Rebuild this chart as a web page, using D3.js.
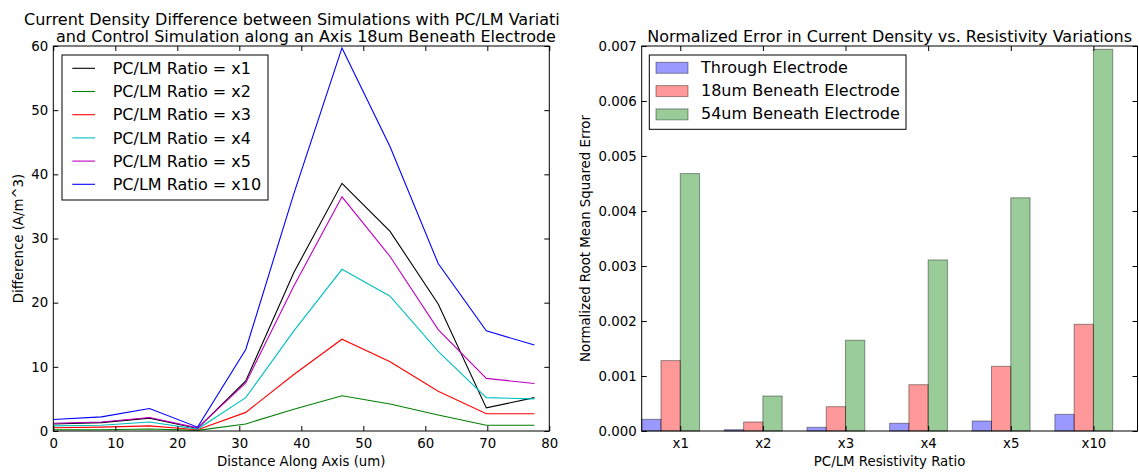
<!DOCTYPE html>
<html><head><meta charset="utf-8">
<script src="https://cdn.jsdelivr.net/npm/d3@7"></script>
<style>
body{margin:0;background:#fff}
svg{display:block}
text{font-family:"DejaVu Sans",sans-serif;fill:#000}
</style>
</head><body>
<svg id="c" width="1139" height="472"></svg>
<script>
// ---------- data ----------
const distance = [0, 7.76, 15.52, 23.28, 31.04, 38.8, 46.56, 54.32, 62.08, 69.84, 77.6];
const diffX1  = [1.1, 1.3, 2.0, 0.4, 7.8, 24.7, 38.6, 31.1, 19.8, 3.6, 5.2];
const diffX2  = [0.2, 0.2, 0.3, 0.1, 1.1, 3.4, 5.5, 4.2, 2.5, 0.9, 0.9];
const diffX3  = [0.5, 0.6, 0.8, 0.2, 2.9, 8.8, 14.3, 10.8, 6.2, 2.7, 2.7];
const diffX4  = [0.8, 0.9, 1.4, 0.3, 5.2, 15.6, 25.2, 21.0, 12.4, 5.2, 5.0];
const diffX5  = [1.2, 1.4, 2.1, 0.5, 7.5, 22.6, 36.5, 27.2, 15.8, 8.2, 7.4];
const diffX10 = [1.8, 2.2, 3.5, 0.6, 12.7, 37.0, 59.7, 44.3, 26.1, 15.6, 13.4];
const lineLabels = ["PC/LM Ratio = x1","PC/LM Ratio = x2","PC/LM Ratio = x3","PC/LM Ratio = x4","PC/LM Ratio = x5","PC/LM Ratio = x10"];
const lineColors = ["#000000","#008000","#ff0000","#00bfbf","#bf00bf","#0000ff"];

const ratioLabels = ["x1","x2","x3","x4","x5","x10"];
const throughElectrode = [0.000212, 0.000024, 0.000067, 0.00014, 0.000182, 0.000303];
const beneath18 = [0.00128, 0.000164, 0.000442, 0.000842, 0.001176, 0.00194];
const beneath54 = [0.00468, 0.000636, 0.00165, 0.00311, 0.00424, 0.00694];
const barLabels = ["Through Electrode","18um Beneath Electrode","54um Beneath Electrode"];
const barColors = ["#0000ff","#ff0000","#008000"];

const xTicksLeft = [0,10,20,30,40,50,60,70,80];
const yTicksLeft = [0,10,20,30,40,50,60];
const yTicksRight = [0,0.001,0.002,0.003,0.004,0.005,0.006,0.007];

// ---------- layout ----------
const svg = d3.select("#c");
svg.append("rect").attr("width",1139).attr("height",472).attr("fill","#fff");
const yTop = 46, yBot = 431;
const FS = 13.33;

svg.append("defs").append("clipPath").attr("id","leftclip")
  .append("rect").attr("x",0).attr("y",0).attr("width",560).attr("height",472);

const L = svg.append("g").attr("clip-path","url(#leftclip)");
const xL = d3.scaleLinear().domain([0,80]).range([53.3,549.3]);
const yL = d3.scaleLinear().domain([0,60]).range([yBot,yTop]);

function axesDecor(g, x, y, xticks, yticks, xfmt, yfmt) {
  const x0 = x.range()[0], x1 = x.range()[1];
  g.append("g").attr("transform",`translate(0,${yBot})`)
    .call(d3.axisBottom(x).tickValues(xticks).tickFormat(xfmt).tickSizeInner(-5).tickSizeOuter(0).tickPadding(7.5))
    .call(s=>{s.select(".domain").remove(); s.selectAll("text").attr("font-size",FS).attr("font-family","DejaVu Sans");});
  g.append("g").attr("transform",`translate(0,${yTop})`)
    .call(d3.axisTop(x).tickValues(xticks).tickFormat("").tickSizeInner(-5).tickSizeOuter(0))
    .call(s=>s.select(".domain").remove());
  g.append("g").attr("transform",`translate(${x0},0)`)
    .call(d3.axisLeft(y).tickValues(yticks).tickFormat(yfmt).tickSizeInner(-5).tickSizeOuter(0).tickPadding(5))
    .call(s=>{s.select(".domain").remove(); s.selectAll("text").attr("font-size",FS).attr("font-family","DejaVu Sans");});
  g.append("g").attr("transform",`translate(${x1},0)`)
    .call(d3.axisRight(y).tickValues(yticks).tickFormat("").tickSizeInner(-5).tickSizeOuter(0))
    .call(s=>s.select(".domain").remove());
  g.selectAll(".tick line").attr("stroke","#000");
  g.append("rect").attr("x",x0).attr("y",yTop).attr("width",x1-x0).attr("height",yBot-yTop)
    .attr("fill","none").attr("stroke","#000").attr("stroke-width",1);
}

// ---------- left: lines ----------
const series = [diffX1, diffX2, diffX3, diffX4, diffX5, diffX10];
const line = d3.line().x((d,i)=>xL(distance[i])).y(d=>yL(d));
series.forEach((s,k)=>{
  L.append("path").datum(s).attr("d",line).attr("fill","none")
    .attr("stroke",lineColors[k]).attr("stroke-width",1.1);
});
axesDecor(L, xL, yL, xTicksLeft, yTicksLeft, d3.format("d"), d3.format("d"));

const lg = L.append("g");
lg.append("rect").attr("x",62).attr("y",55).attr("width",206).attr("height",145)
  .attr("fill","#fff").attr("stroke","#000").attr("stroke-width",1);
lineLabels.forEach((t,k)=>{
  const cy = 68.3 + k*23.2;
  lg.append("line").attr("x1",72.3).attr("x2",95).attr("y1",cy).attr("y2",cy)
    .attr("stroke",lineColors[k]).attr("stroke-width",1.1);
  lg.append("text").attr("x",112.7).attr("y",cy+5.7).attr("font-size",16).text(t);
});

L.append("text").attr("x",306).attr("y",24.5).attr("text-anchor","middle").attr("font-size",16)
  .text("Current Density Difference between Simulations with PC/LM Variations");
L.append("text").attr("x",306).attr("y",41.5).attr("text-anchor","middle").attr("font-size",16)
  .text("and Control Simulation along an Axis 18um Beneath Electrode");
L.append("text").attr("x",301.3).attr("y",465.5).attr("text-anchor","middle").attr("font-size",FS)
  .text("Distance Along Axis (um)");
L.append("text").attr("transform",`translate(23,${(yTop+yBot)/2}) rotate(-90)`)
  .attr("text-anchor","middle").attr("font-size",FS).text("Difference (A/m^3)");

// ---------- right: bars ----------
const R = svg.append("g");
const xR = d3.scaleLinear().domain([0,6]).range([641.7,1137.5]);
const yR = d3.scaleLinear().domain([0,0.007]).range([yBot,yTop]);
const bw = 0.7/3;
const groups = [throughElectrode, beneath18, beneath54];
groups.forEach((vals,k)=>{
  R.selectAll(null).data(vals).enter().append("rect")
    .attr("x",(d,i)=>xR(i + k*bw))
    .attr("width",xR(bw)-xR(0))
    .attr("y",d=>yR(d))
    .attr("height",d=>yR(0)-yR(d))
    .attr("fill",barColors[k]).attr("fill-opacity",0.4)
    .attr("stroke","#000").attr("stroke-opacity",0.4).attr("stroke-width",1);
});
const tickPos = ratioLabels.map((d,i)=>i + 2*bw);
axesDecor(R, xR, yR, tickPos, yTicksRight, (d,i)=>ratioLabels[i], d3.format(".3f"));

const rg = R.append("g");
rg.append("rect").attr("x",649.3).attr("y",55).attr("width",256.7).attr("height",74.3)
  .attr("fill","#fff").attr("stroke","#000").attr("stroke-width",1);
barLabels.forEach((t,k)=>{
  const cy = 67.8 + k*23.3;
  rg.append("rect").attr("x",656).attr("y",cy-5.5).attr("width",32).attr("height",11)
    .attr("fill",barColors[k]).attr("fill-opacity",0.4)
    .attr("stroke","#000").attr("stroke-opacity",0.4).attr("stroke-width",1);
  rg.append("text").attr("x",701).attr("y",cy+5).attr("font-size",16).text(t);
});

R.append("text").attr("x",889.6).attr("y",41.5).attr("text-anchor","middle").attr("font-size",16)
  .text("Normalized Error in Current Density vs. Resistivity Variations");
R.append("text").attr("x",889.6).attr("y",465.5).attr("text-anchor","middle").attr("font-size",FS)
  .text("PC/LM Resistivity Ratio");
R.append("text").attr("transform",`translate(590,${(yTop+yBot)/2}) rotate(-90)`)
  .attr("text-anchor","middle").attr("font-size",FS).text("Normalized Root Mean Squared Error");
</script>
</body></html>
